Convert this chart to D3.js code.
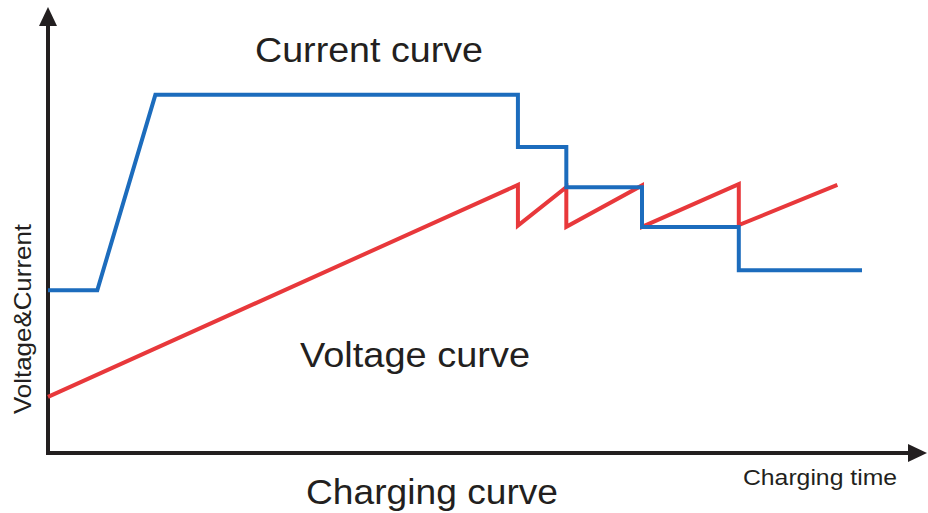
<!DOCTYPE html>
<html><head><meta charset="utf-8">
<script src="https://cdn.jsdelivr.net/npm/d3@7"></script>
<style>body{margin:0;background:#fff}svg{display:block}text{font-family:"Liberation Sans",Arial,sans-serif;fill:#231f20}</style>
</head><body>
<svg id="c" width="928" height="513"></svg>
<script>
const currentTime = [0, 5.6, 12.2, 53.4, 53.4, 58.9, 58.9, 67.5, 67.5, 78.5, 78.5, 92.5];
const currentValue = [36.5, 36.5, 80.3, 80.3, 68.6, 68.6, 59.6, 59.6, 50.7, 50.7, 41, 41];
const voltageTime = [0, 53.4, 53.4, 58.9, 58.9, 67.5, 67.5, 78.5, 78.5, 89.7];
const voltageValue = [12.6, 60.1, 51, 59.6, 50.7, 60, 50.7, 60.3, 51.1, 60.1];

const svg = d3.select("#c");
const x = d3.scaleLinear().domain([0, 100]).range([48, 928]);
const y = d3.scaleLinear().domain([0, 100]).range([453, 7]);

const line = d3.line().x(d => x(d[0])).y(d => y(d[1]));
const cur = currentTime.map((t, i) => [t, currentValue[i]]);
const vol = voltageTime.map((t, i) => [t, voltageValue[i]]);

// axes
const axisColor = "#231f20";
svg.append("line").attr("x1", x(0)).attr("x2", x(0)).attr("y1", y(0) + 2).attr("y2", y(100) + 14)
  .attr("stroke", axisColor).attr("stroke-width", 4);
svg.append("line").attr("x1", x(0) - 2).attr("x2", x(100) - 14).attr("y1", y(0)).attr("y2", y(0))
  .attr("stroke", axisColor).attr("stroke-width", 4);
// arrowheads
const yt = [x(0), y(100)];
svg.append("path").attr("d", `M${yt[0]},${yt[1]} L${yt[0]-9},${yt[1]+19} L${yt[0]+9},${yt[1]+19} Z`).attr("fill", axisColor);
const xt = [x(100) - 1, y(0)];
svg.append("path").attr("d", `M${xt[0]},${xt[1]} L${xt[0]-19},${xt[1]-9} L${xt[0]-19},${xt[1]+9} Z`).attr("fill", axisColor);

svg.append("path").datum(vol).attr("d", line).attr("fill", "none")
  .attr("stroke", "#e8383b").attr("stroke-width", 4).attr("stroke-linejoin", "miter");
svg.append("path").datum(cur).attr("d", line).attr("fill", "none")
  .attr("stroke", "#1c6cbd").attr("stroke-width", 4).attr("stroke-linejoin", "miter");

function label(txt, cx, by, size, len, rot) {
  const t = svg.append("text").attr("text-anchor", "middle").attr("font-size", size)
    .attr("textLength", len).attr("lengthAdjust", "spacingAndGlyphs").text(txt);
  if (rot) t.attr("transform", `translate(${cx},${by}) rotate(-90)`);
  else t.attr("x", cx).attr("y", by);
}
label("Current curve", 369, 62, 35, 228);
label("Voltage curve", 415, 367, 35, 230);
label("Charging curve", 432, 504, 34.5, 252);
label("Charging time", 820, 485, 22, 154);
label("Voltage&Current", 31, 319, 24, 190, true);
</script>
</body></html>
